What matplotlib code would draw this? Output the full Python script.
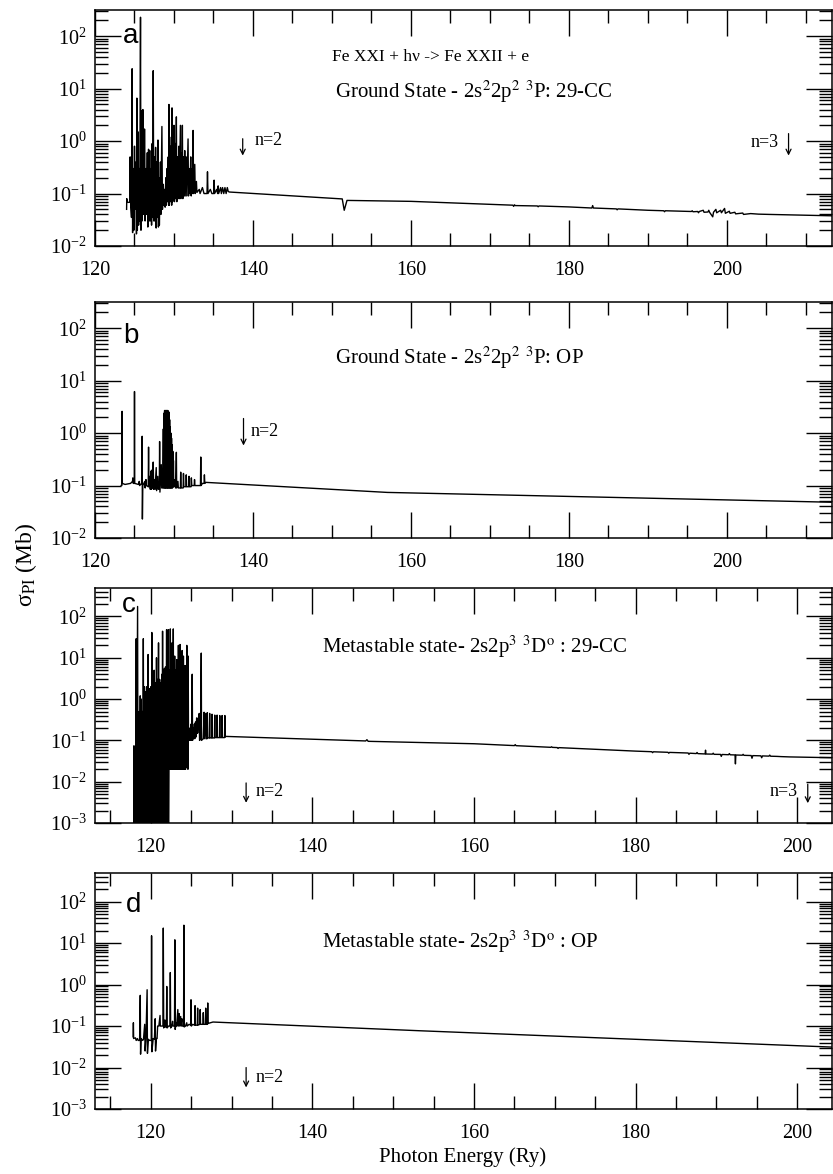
import numpy as np
import matplotlib
matplotlib.use("Agg")
import matplotlib.pyplot as plt
from matplotlib.ticker import MultipleLocator, LogLocator, LogFormatterMathtext, NullFormatter

plt.rcParams['font.family'] = ['Liberation Serif', 'DejaVu Serif']
plt.rcParams['mathtext.fontset'] = 'stix'

# ---------------------------------------------------------------------------
# Photoionization cross sections (Mb) versus photon energy (Ry)
# ---------------------------------------------------------------------------

# (a) ground state 2s2 2p2 3P, 29-CC: resonance region
res_energy_a = [
    124.00, 124.02, 124.05, 124.40, 124.45, 124.52, 124.62, 124.70, 124.76, 124.85,
    124.92, 125.00, 125.08, 125.18, 125.25, 125.30, 125.36, 125.45, 125.52, 125.60,
    125.66, 125.76, 125.82, 125.90, 125.96, 126.06, 126.12, 126.20, 126.23, 126.27,
    126.34, 126.45, 126.52, 126.62, 126.69, 126.78, 126.84, 126.93, 126.99, 127.10,
    127.16, 127.24, 127.30, 127.37, 127.44, 127.52, 127.58, 127.67, 127.74, 127.82,
    127.88, 127.97, 128.03, 128.10, 128.15, 128.28, 128.34, 128.47, 128.54, 128.65,
    128.72, 128.81, 128.88, 128.96, 129.03, 129.12, 129.18, 129.27, 129.32, 129.36,
    129.42, 129.52, 129.58, 129.67, 129.71, 129.75, 129.82, 129.90, 129.96, 130.00,
    130.06, 130.15, 130.21, 130.30, 130.36, 130.45, 130.52, 130.62, 130.68, 130.81,
    130.87, 130.95, 131.01, 131.06, 131.12, 131.22, 131.28, 131.36, 131.42, 131.55,
    131.62, 131.78, 131.84, 131.95, 132.02, 132.12, 132.18, 132.30, 132.36, 132.42,
    132.48, 132.63, 132.69, 132.84, 132.90, 133.20, 133.30, 133.60, 133.80, 134.18, 134.24,
    134.30, 134.60, 134.80, 135.02, 135.08, 135.14, 135.40, 135.53, 135.59, 135.65, 135.90, 136.00,
    136.15, 136.30, 136.45, 136.60, 136.75, 136.86,
]
res_sigma_a = [
    0.050, 0.080, 0.068, 0.068, 0.50, 0.060, 0.035, 24.0, 0.018, 0.30,
    0.020, 0.80, 0.050, 0.40, 0.017, 6.6, 0.020, 1.5, 0.025, 0.30,
    0.030, 230.0, 0.020, 3.8, 0.030, 4.0, 0.040, 0.50, 0.050, 1.7,
    0.030, 0.30, 0.040, 0.60, 0.023, 0.70, 0.030, 0.66, 0.030, 0.30,
    0.025, 0.90, 0.035, 22.0, 0.030, 0.50, 0.030, 0.76, 0.022, 0.40,
    0.035, 1.05, 0.023, 0.20, 0.025, 0.40, 0.040, 1.9, 0.050, 0.15,
    0.060, 0.12, 0.055, 0.20, 0.060, 0.30, 0.070, 0.50, 0.060, 5.0,
    0.060, 0.80, 0.070, 1.2, 0.060, 4.3, 0.070, 0.60, 0.080, 2.0,
    0.070, 0.90, 0.080, 2.9, 0.070, 0.50, 0.080, 0.80, 0.080, 2.0,
    0.080, 0.60, 0.090, 2.0, 0.080, 0.50, 0.090, 0.66, 0.090, 0.50,
    0.090, 1.1, 0.090, 0.30, 0.100, 0.50, 0.090, 0.30, 0.100, 1.6,
    0.100, 0.36, 0.100, 0.17, 0.105, 0.120, 0.100, 0.130, 0.100, 0.100, 0.260,
    0.100, 0.120, 0.100, 0.100, 0.180, 0.100, 0.120, 0.100, 0.140, 0.100, 0.130, 0.100,
    0.130, 0.100, 0.130, 0.100, 0.130, 0.110,
]
# (a) background above the resonances
tail_energy_a = [
    137.0, 151.3, 151.55, 151.9, 160.0, 172.9, 173.0, 173.1, 173.2, 176.0,
    176.1, 176.2, 180.0, 182.9, 183.0, 183.1, 186.0, 186.1, 186.2, 190.0,
    192.0, 192.1, 192.2, 195.5, 195.6, 195.7, 196.3, 196.4, 196.5, 197.0,
    197.1, 197.6, 197.7, 197.8, 198.2, 198.3, 198.6, 198.7, 199.2, 199.3,
    199.7, 199.8, 200.3, 200.4, 201.0, 201.1, 202.0, 202.1, 203.0, 204.0,
    205.4, 213.5,
]
tail_sigma_a = [
    0.107, 0.079, 0.048, 0.074, 0.071, 0.060, 0.057, 0.061, 0.059, 0.058,
    0.056, 0.058, 0.0556, 0.053, 0.059, 0.053, 0.051, 0.049, 0.051, 0.048,
    0.047, 0.045, 0.047, 0.0455, 0.047, 0.045, 0.0455, 0.043, 0.0455, 0.048,
    0.044, 0.0445, 0.048, 0.044, 0.036, 0.044, 0.050, 0.043, 0.048, 0.043,
    0.052, 0.042, 0.046, 0.042, 0.044, 0.041, 0.0425, 0.040, 0.0415, 0.0405,
    0.040, 0.0376,
]

# (b) ground state, Opacity Project
res_energy_b = [
    123.31, 123.40, 123.43, 123.46, 123.80, 124.50, 124.75, 124.79, 124.84, 124.97,
    125.00, 125.03, 125.50, 125.60, 125.65, 125.90, 125.97, 126.00, 126.05, 126.30,
    126.35, 126.45, 126.50, 126.74, 126.78, 126.82, 126.95, 127.00, 127.10, 127.15, 127.25,
    127.30, 127.37, 127.42, 127.55, 127.60, 127.75, 127.80, 127.95, 128.00, 128.14, 128.18,
    128.22, 128.39, 128.45, 128.57, 128.65, 128.69, 128.73, 128.77, 128.81, 128.85,
    128.89, 128.93, 128.97, 129.01, 129.05, 129.09, 129.13, 129.17, 129.21, 129.25,
    129.29, 129.33, 129.37, 129.41, 129.45, 129.49, 129.53, 129.57, 129.61, 129.65,
    129.69, 129.73, 129.77, 129.81, 129.85, 129.89, 129.93, 129.97, 130.05, 130.15,
    130.20, 130.30, 130.34, 130.50, 130.55, 130.81, 130.85, 130.90, 131.16, 131.20, 131.25, 131.51, 131.55,
    131.60, 131.86, 131.90, 131.95, 132.16, 132.20, 132.25, 132.56, 132.60, 132.65, 133.35, 133.39, 133.43, 133.60,
    133.81, 133.85, 133.90, 134.03,
]
res_sigma_b = [
    0.100, 0.100, 2.6, 0.110, 0.105, 0.110, 0.120, 0.140, 0.110, 0.110,
    6.2, 0.110, 0.105, 0.120, 0.100, 0.110, 0.87, 0.023, 0.100, 0.120,
    0.090, 0.130, 0.100, 0.095, 0.54, 0.095, 0.150, 0.085, 0.190, 0.085, 0.200,
    0.090, 0.280, 0.085, 0.130, 0.085, 0.220, 0.080, 0.150, 0.085, 0.085, 0.69,
    0.075, 0.250, 0.090, 0.090, 1.2, 0.090, 2.4, 0.090, 2.7, 0.090,
    2.7, 0.090, 2.7, 0.090, 2.7, 0.090, 2.7, 0.090, 2.7, 0.090,
    2.6, 0.090, 2.5, 0.090, 1.8, 0.090, 1.3, 0.090, 1.0, 0.090,
    0.80, 0.090, 0.60, 0.090, 0.45, 0.095, 0.30, 0.095, 0.100, 0.130,
    0.090, 0.43, 0.090, 0.120, 0.090, 0.090, 0.180, 0.090, 0.090, 0.170, 0.095, 0.095, 0.160,
    0.095, 0.095, 0.150, 0.095, 0.095, 0.140, 0.100, 0.100, 0.130, 0.100, 0.100, 0.35, 0.100, 0.110,
    0.110, 0.160, 0.110, 0.115,
]
tail_energy_b = [157.0, 213.5]
tail_sigma_b = [0.074, 0.048]

# (c) metastable state 2s2p3 3Do, 29-CC
res_energy_c = [
    117.90, 117.92, 117.95, 118.15, 118.20, 118.24, 118.37, 118.42, 118.55, 118.60,
    118.70, 118.76, 118.83, 118.88, 118.96, 119.02, 119.08, 119.13, 119.22, 119.28,
    119.38, 119.43, 119.52, 119.58, 119.67, 119.72, 119.80, 119.84, 119.88, 119.93,
    120.02, 120.08, 120.13, 120.18, 120.28, 120.34, 120.42, 120.47, 120.56, 120.62,
    120.71, 120.76, 120.85, 120.90, 120.96, 121.01, 121.10, 121.16, 121.25, 121.30,
    121.38, 121.42, 121.46, 121.51, 121.58, 121.62, 121.67, 121.72, 121.82, 121.88,
    121.96, 122.01, 122.08, 122.12, 122.17, 122.20, 122.24, 122.30, 122.35, 122.42,
    122.47, 122.55, 122.60, 122.63, 122.68, 122.79, 122.84, 122.90, 122.94, 122.96,
    123.01, 123.10, 123.15, 123.21, 123.26, 123.35, 123.38, 123.42, 123.47, 123.55,
    123.58, 123.63, 123.68, 123.78, 123.82, 123.88, 123.93, 123.98, 124.00, 124.04,
    124.09, 124.16, 124.20, 124.25, 124.30, 124.38, 124.42, 124.46, 124.50, 124.56,
    124.60, 124.63, 124.67, 124.75, 124.85, 124.90, 125.00, 125.05, 125.13, 125.17,
    125.25, 125.30, 125.40, 125.45, 125.54, 125.58, 125.68, 125.72, 125.75, 125.80,
    125.90, 126.00, 126.04, 126.15, 126.25, 126.28, 126.50, 126.60, 126.63, 126.80,
    126.83, 126.96, 127.00, 127.03, 127.25, 127.29, 127.32, 127.54, 127.58, 127.61,
    127.88, 127.92, 127.95, 128.17, 128.21,
    128.24, 128.50, 128.54, 128.57, 128.79, 128.83, 128.86, 129.13, 129.17, 129.20, 129.25,
]
res_sigma_c = [
    0.0008, 0.074, 0.0008, 0.0008, 29.0, 0.0008, 175.0, 0.0008, 0.50, 0.0008,
    1.2, 0.0008, 1.0, 0.0008, 0.50, 0.0008, 29.0, 0.0008, 2.0, 0.0008,
    1.5, 0.0008, 2.0, 0.0008, 12.0, 0.0008, 1.6, 0.0008, 1.8, 0.0008,
    2.0, 0.0008, 41.0, 0.0008, 2.0, 0.0008, 5.0, 0.0008, 2.5, 0.0008,
    10.0, 0.0008, 3.0, 0.0008, 23.0, 0.0008, 3.0, 0.0008, 2.5, 0.0008,
    4.0, 0.0008, 44.0, 0.0008, 5.0, 0.0008, 5.4, 0.0008, 6.0, 0.0008,
    48.0, 0.0008, 8.0, 0.0008, 48.0, 0.0008, 0.020, 5.0, 0.020, 50.0,
    0.020, 8.0, 0.020, 23.0, 0.020, 50.0, 0.020, 6.0, 0.020, 11.0,
    0.020, 5.0, 0.020, 9.0, 0.020, 4.0, 0.020, 20.0, 0.020, 6.0,
    0.020, 21.0, 0.020, 5.0, 0.020, 15.0, 0.020, 4.0, 0.020, 11.0,
    0.020, 3.0, 0.020, 6.5, 0.020, 2.0, 0.025, 20.0, 0.022, 2.0,
    0.020, 11.0, 0.100, 0.100, 0.200, 0.100, 0.250, 0.100, 4.0, 0.100,
    0.200, 0.110, 0.250, 0.110, 0.280, 0.120, 0.350, 0.150, 0.330, 0.150,
    0.350, 0.450, 0.100, 0.120, 13.0, 0.100, 0.110, 0.480, 0.110, 0.450,
    0.110, 0.110, 0.470, 0.115, 0.115, 0.450, 0.115, 0.115, 0.430, 0.115,
    0.115, 0.410, 0.117, 0.117, 0.410,
    0.117, 0.117, 0.400, 0.117, 0.117, 0.400, 0.117, 0.117, 0.400, 0.120, 0.125,
]
tail_energy_c = [
    146.6, 146.75, 146.9, 160.0, 165.0, 165.1, 165.2, 169.5, 169.6, 169.7,
    170.3, 170.4, 170.5, 180.0, 182.0, 182.1, 182.2, 184.0, 184.1, 184.2,
    186.5, 186.6, 186.7, 187.5, 187.6, 187.7, 188.6, 188.65, 188.7, 189.5,
    189.6, 189.7, 190.5, 190.6, 190.7, 191.5, 191.6, 191.7, 192.3, 192.35,
    192.4, 193.2, 193.3, 193.4, 194.3, 194.4, 194.5, 195.5, 195.6, 195.7,
    196.5, 196.6, 196.7, 197.5, 198.0, 199.1, 204.5,
]
tail_sigma_c = [
    0.097, 0.104, 0.095, 0.083, 0.0748, 0.079, 0.0745, 0.068, 0.070, 0.0678,
    0.067, 0.064, 0.0668, 0.055, 0.0532, 0.0505, 0.0530, 0.0515, 0.049, 0.0512,
    0.0495, 0.046, 0.049, 0.048, 0.051, 0.0478, 0.047, 0.058, 0.0468, 0.0465,
    0.049, 0.046, 0.0458, 0.041, 0.0456, 0.045, 0.048, 0.0448, 0.0445, 0.027,
    0.0443, 0.0438, 0.046, 0.0435, 0.043, 0.037, 0.0428, 0.0423, 0.038, 0.0421,
    0.0416, 0.044, 0.0414, 0.041, 0.0405, 0.0398, 0.038,
]

# (d) metastable state, Opacity Project
res_energy_d = [
    117.82, 117.85, 117.88, 118.10, 118.20, 118.35, 118.45, 118.62, 118.70, 118.74,
    118.80, 119.00, 119.10, 119.25, 119.30, 119.40, 119.55, 119.59, 119.70, 119.85,
    120.06, 120.10, 120.14, 120.30, 120.45, 120.55, 120.59, 120.70, 120.78, 120.85,
    121.00, 121.15, 121.18, 121.30, 121.51, 121.55, 121.60, 121.75, 121.78, 121.94,
    121.98, 122.02, 122.20, 122.38, 122.42, 122.46, 122.60, 122.70, 122.75, 122.94,
    122.98, 123.02, 123.15, 123.20, 123.35, 123.38, 123.50, 123.53, 123.70, 123.73,
    123.85, 123.88, 124.06, 124.10, 124.14, 124.30, 124.45, 124.50, 124.75, 124.94,
    124.98, 125.02, 125.20, 125.44, 125.48, 125.52, 125.76, 125.80, 125.84, 126.08,
    126.12, 126.16, 126.46, 126.50, 126.54, 126.76, 126.80, 126.84, 127.01, 127.05,
    127.09, 127.25,
]
res_sigma_d = [
    0.055, 0.120, 0.050, 0.052, 0.045, 0.050, 0.045, 0.045, 0.55, 0.021,
    0.050, 0.045, 0.048, 0.110, 0.025, 0.048, 0.75, 0.022, 0.048, 0.045,
    0.045, 15.0, 0.024, 0.050, 0.048, 0.150, 0.025, 0.050, 0.050, 0.100,
    0.100, 0.180, 0.100, 0.100, 0.100, 23.0, 0.090, 0.140, 0.095, 0.095,
    0.90, 0.090, 0.100, 0.100, 1.95, 0.090, 0.100, 0.130, 0.100, 0.100,
    12.0, 0.083, 0.120, 0.100, 0.250, 0.100, 0.200, 0.100, 0.170, 0.100,
    0.150, 0.100, 0.100, 27.0, 0.095, 0.100, 0.120, 0.100, 0.110, 0.105,
    0.43, 0.100, 0.110, 0.105, 0.31, 0.105, 0.105, 0.27, 0.105, 0.110,
    0.25, 0.110, 0.110, 0.21, 0.110, 0.110, 0.27, 0.110, 0.110, 0.36,
    0.115, 0.118,
]
tail_energy_d = [127.7, 153.3, 204.5]
tail_sigma_d = [0.125, 0.077, 0.031]

panel_letters = ['a', 'b', 'c', 'd']
panel_titles = [
    'Ground State - 2s$^{2}$2p$^{2}$ $^{3}$P: 29-CC',
    'Ground State - 2s$^{2}$2p$^{2}$ $^{3}$P: OP',
    'Metastable state- 2s2p$^{3}$ $^{3}$D$^{\\mathrm{o}}$ : 29-CC',
    'Metastable state- 2s2p$^{3}$ $^{3}$D$^{\\mathrm{o}}$ : OP',
]
reaction_text = 'Fe XXI + h\u03bd -> Fe XXII + e'

spectra = [
    (res_energy_a + tail_energy_a, res_sigma_a + tail_sigma_a),
    (res_energy_b + tail_energy_b, res_sigma_b + tail_sigma_b),
    (res_energy_c + tail_energy_c, res_sigma_c + tail_sigma_c),
    (res_energy_d + tail_energy_d, res_sigma_d + tail_sigma_d),
]

# ---------------------------------------------------------------------------
W_PX, H_PX = 833, 1174
fig = plt.figure(figsize=(W_PX / 100, H_PX / 100), dpi=100)

left, right = 95, 832
frames = [(10, 246), (302, 538), (588, 823), (873, 1109)]
xlims = [(120, 213.3), (120, 213.3), (113.1, 204.3), (113.1, 204.3)]
ylims = [(1e-2, 10 ** 2.5), (1e-2, 10 ** 2.5), (1e-3, 10 ** 2.69), (1e-3, 10 ** 2.69)]
letter_pos = [(0.038, 0.860), (0.038, 0.826), (0.036, 0.898), (0.042, 0.835)]
title_pos = [(0.3256, 0.653), (0.3256, 0.763), (0.3076, 0.749), (0.3076, 0.708)]

axes = []
for i, (top, bot) in enumerate(frames):
    ax = fig.add_axes([left / W_PX, 1 - bot / H_PX, (right - left) / W_PX, (bot - top) / H_PX])
    axes.append(ax)
    e, s = spectra[i]
    ax.plot(np.array(e), np.array(s), color='black', lw=1.0)
    ax.set_yscale('log')
    ax.set_xlim(*xlims[i])
    ax.set_ylim(*ylims[i])

    ax.xaxis.set_major_locator(MultipleLocator(20))
    ax.xaxis.set_minor_locator(MultipleLocator(5))
    ax.yaxis.set_major_locator(LogLocator(base=10, numticks=20))
    ax.yaxis.set_minor_locator(LogLocator(base=10, subs=np.arange(2, 10), numticks=20))
    ax.yaxis.set_major_formatter(LogFormatterMathtext())
    ax.yaxis.set_minor_formatter(NullFormatter())

    ax.tick_params(which='major', direction='in', length=19, width=1.0,
                   top=True, right=True, labelsize=14.5)
    ax.tick_params(axis='x', which='major', pad=11)
    ax.tick_params(axis='y', which='major', pad=6)
    ax.tick_params(which='minor', direction='in', length=9.5, width=1.0,
                   top=True, right=True)
    for sp in ax.spines.values():
        sp.set_linewidth(1.1)

    ax.text(*letter_pos[i], panel_letters[i], transform=ax.transAxes,
            family=['Liberation Sans', 'DejaVu Sans'], fontsize=20,
            ha='left', va='baseline')
    ax.text(*title_pos[i], panel_titles[i], transform=ax.transAxes,
            fontsize=15, ha='left', va='center')

axes[0].text(0.3216, 0.80, reaction_text, transform=axes[0].transAxes,
             fontsize=12.5, ha='left', va='center')

# threshold markers
arrow_kw = dict(arrowstyle='->', lw=0.9, color='black', shrinkA=0, shrinkB=0,
                mutation_scale=9)
markers = [
    (0, 138.7, 1.11, 0.53, 'n=2', 140.25, 1.02, 'left'),
    (0, 207.8, 1.39, 0.53, 'n=3', 206.5, 0.94, 'right'),
    (1, 138.8, 1.90, 0.58, 'n=2', 139.7, 1.07, 'left'),
    (2, 131.8, 10 ** -2.03, 10 ** -2.51, 'n=2', 133.0, 10 ** -2.23, 'left'),
    (2, 201.3, 10 ** -2.06, 10 ** -2.52, 'n=3', 200.1, 10 ** -2.23, 'right'),
    (3, 131.8, 10 ** -2.00, 10 ** -2.48, 'n=2', 133.0, 10 ** -2.24, 'left'),
]
for k, xe, ytop, ybot, label, tx, ty, ha in markers:
    axes[k].annotate('', xy=(xe, ybot), xytext=(xe, ytop), arrowprops=arrow_kw)
    axes[k].text(tx, ty, label, fontsize=13, ha=ha, va='center')

fig.text(26 / W_PX, 1 - 565 / H_PX, '\u03c3$_{\\mathrm{PI}}$ (Mb)', rotation=90,
         fontsize=17, ha='center', va='center')
fig.text(463 / W_PX, 1 - 1157 / H_PX, 'Photon Energy (Ry)', fontsize=15,
         ha='center', va='center')

fig.savefig('out.png', dpi=100)
